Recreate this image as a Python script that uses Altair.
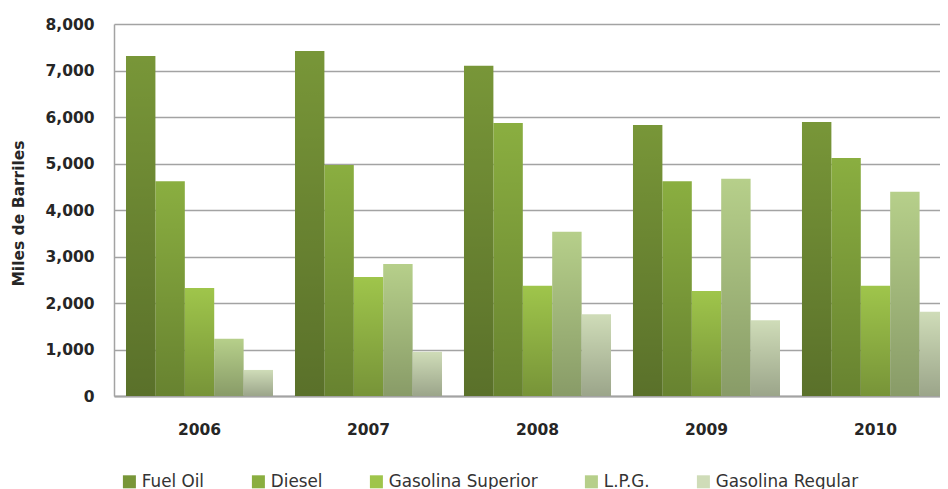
import altair as alt
import pandas as pd

years = ["2006", "2007", "2008", "2009", "2010"]
series = ["Fuel Oil", "Diesel", "Gasolina Superior", "L.P.G.", "Gasolina Regular"]
fuel_oil = [7310, 7420, 7100, 5830, 5890]
diesel = [4620, 4970, 5870, 4620, 5120]
gas_superior = [2320, 2560, 2370, 2260, 2370]
lpg = [1230, 2840, 3530, 4670, 4390]
gas_regular = [560, 950, 1760, 1630, 1810]
colors = ["#789638", "#8aae40", "#9fc54b", "#b6cf8a", "#cfdcb8"]

values = [fuel_oil, diesel, gas_superior, lpg, gas_regular]
rows = []
for s, vals in zip(series, values):
    for y, v in zip(years, vals):
        rows.append({"Año": y, "Producto": s, "Valor": v})
df = pd.DataFrame(rows)

FONT = "DejaVu Sans"

base = alt.Chart(df).encode(
    x=alt.X(
        "Año:N",
        sort=years,
        scale=alt.Scale(paddingInner=0.13, paddingOuter=0.071, range=[0, 847]),
        axis=alt.Axis(
            title=None,
            labelAngle=0,
            labelFont=FONT,
            labelFontWeight="bold",
            labelFontSize=15.5,
            labelColor="#262626",
            labelPadding=26,
            ticks=False,
            domainColor="#a3a3a3",
            domainWidth=2,
            grid=False,
        ),
    ),
    xOffset=alt.XOffset(
        "Producto:N",
        sort=series,
        scale=alt.Scale(domain=series, paddingInner=0, paddingOuter=0),
    ),
    y=alt.Y(
        "Valor:Q",
        scale=alt.Scale(domain=[0, 8000], nice=False),
        axis=alt.Axis(
            values=list(range(0, 8001, 1000)),
            format=",.0f",
            labelFont=FONT,
            labelFontWeight="bold",
            labelFontSize=15.5,
            labelColor="#262626",
            labelPadding=20,
            ticks=False,
            domainColor="#a3a3a3",
            domainWidth=1.5,
            gridColor="#a3a3a3",
            gridWidth=1.6,
            title="Miles de Barriles",
            titleFont=FONT,
            titleFontWeight="bold",
            titleFontSize=15.5,
            titleColor="#262626",
            titleAngle=270,
            titleX=-96,
            titleY=189,
            titleAlign="center",
            titleBaseline="middle",
        ),
    ),
)

bars = base.mark_bar().encode(
    color=alt.Color(
        "Producto:N",
        sort=series,
        scale=alt.Scale(domain=series, range=colors),
        legend=alt.Legend(
            title=None,
            orient="none",
            legendX=7,
            legendY=449,
            direction="horizontal",
            symbolType="square",
            symbolSize=169,
            symbolStrokeWidth=0,
            labelFont=FONT,
            labelFontSize=16.8,
            labelColor="#333333",
            columnPadding=45,
            labelOffset=4,
        ),
    )
)

shade = base.mark_bar(
    fill=alt.Gradient(
        gradient="linear",
        stops=[
            alt.GradientStop(offset=0, color="rgba(0,0,0,0)"),
            alt.GradientStop(offset=1, color="rgba(0,0,0,0.25)"),
        ],
        x1=0,
        x2=0,
        y1=0,
        y2=1,
    )
)

chart = (
    alt.layer(bars, shade)
    .properties(
        width=826,
        height=372,
        autosize=alt.AutoSizeParams(type="none"),
        padding={"left": 106, "top": 16, "right": 0, "bottom": 100},
        background="white",
    )
    .configure_view(stroke=None)
)

chart.save("out.html", embed_options={"renderer": "svg", "actions": False})
